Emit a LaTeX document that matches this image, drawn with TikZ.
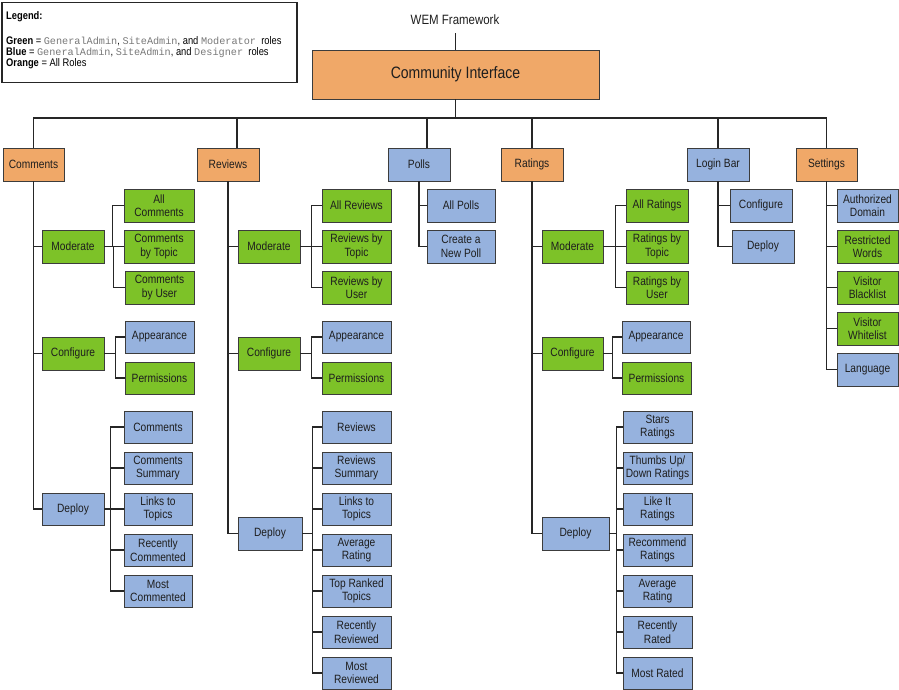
\documentclass[tikz,border=0pt]{standalone}
\usepackage{fontspec}
\setmainfont{Liberation Sans}[FakeStretch=0.85]
\newfontfamily\legmono{Liberation Mono}
\usetikzlibrary{shadows}
\definecolor{orgfill}{RGB}{240,168,104}
\definecolor{grnfill}{RGB}{125,194,40}
\definecolor{blufill}{RGB}{150,178,222}
\definecolor{boxline}{RGB}{60,60,60}
\definecolor{txtc}{RGB}{30,30,30}
\definecolor{monoc}{RGB}{120,120,120}
\newcommand\mono[1]{{\legmono\fontsize{10.2}{11}\selectfont\color{monoc}#1}}
\newcommand\bx[7]{\node[box,#6,minimum width={#4-#2},minimum height={#5-#3}] (#1) at ({(#2+#4)/2},{(#3+#5)/2}) {#7};}
\newcommand\mybrk[3]{\foreach \cc in {#3}{\draw[conn] (#1.east) -| ([xshift=-#2]\cc.west) -- (\cc.west);}}
\tikzset{
  box/.style={draw=boxline,line width=0.8pt,align=center,inner sep=1pt,text=txtc,
    font=\fontsize{12}{13.5}\selectfont,
    drop shadow={shadow xshift=1.2pt,shadow yshift=-1.2pt,opacity=0.25,fill=black}},
  O/.style={fill=orgfill},
  G/.style={fill=grnfill},
  B/.style={fill=blufill},
  conn/.style={line width=1.3pt,draw=black!85}
}
\begin{document}
\begin{tikzpicture}[x=1pt,y=-1pt]
\useasboundingbox (0,0) rectangle (899,690);
% legend
\node[draw=black!85,line width=1.5pt,minimum width=295,minimum height=80,inner sep=0pt] (legend) at (149.5,42.5) {};
\begin{scope}[every node/.style={anchor=base west,inner sep=0pt,font=\fontsize{11}{12}\selectfont,text=black}]
\node[font=\fontsize{11}{12}\selectfont\bfseries] (lg0) at (6,20) {Legend:};
\node (lg1) at (6,45) {\textbf{Green} = \mono{GeneralAdmin}, \mono{SiteAdmin}, and \mono{Moderator} \ roles};
\node (lg2) at (6,56) {\textbf{Blue} = \mono{GeneralAdmin}, \mono{SiteAdmin}, and \mono{Designer} \ roles};
\node (lg3) at (6,67) {\textbf{Orange} = All Roles};
\end{scope}
% title
\node[font=\fontsize{13.5}{15}\selectfont,text=txtc,inner sep=1pt] (wem) at (455,20) {WEM Framework};
\bx{ci}{312}{50}{599}{99}{O,font=\fontsize{16.5}{18}\selectfont}{Community Interface}
\draw[conn] (ci.north) -- ++(0,-17) coordinate (wemend);
% top level
\bx{comments}{3}{148}{64}{181}{O}{Comments}
\bx{reviews}{197}{148}{259}{181}{O}{Reviews}
\bx{polls}{388}{148}{450}{181}{B}{Polls}
\bx{ratings}{501}{148}{563}{181}{O}{Ratings}
\bx{login}{687}{148}{749}{181}{B}{Login Bar}
\bx{settings}{796}{148}{857}{181}{O}{Settings}
\coordinate (bus) at (455,118);
\draw[conn] (ci.south) -- (ci.south |- bus);
\draw[conn] (comments.north) -- (comments.north |- bus) -- (settings.north |- bus) -- (settings.north);
\path ([xshift=9]reviews.north) coordinate (rvtop) ([xshift=8]polls.north) coordinate (pltop);
\draw[conn] (rvtop) -- (rvtop |- bus);
\draw[conn] (pltop) -- (pltop |- bus);
\draw[conn] (ratings.north) -- (ratings.north |- bus);
\draw[conn] (login.north) -- (login.north |- bus);
% Comments column
\bx{cmod}{42}{230}{104}{263}{G}{Moderate}
\bx{cm1}{124}{189}{194}{222}{G}{All\\Comments}
\bx{cm2}{124}{230}{194}{263}{G}{Comments\\by Topic}
\bx{cm3}{125}{271}{194}{304}{G}{Comments\\by User}
\bx{ccfg}{42}{337}{104}{370}{G}{Configure}
\bx{cc1}{125}{321}{194}{353}{B}{Appearance}
\bx{cc2}{125}{362}{194}{394}{G}{Permissions}
\bx{cdep}{42}{493}{104}{525}{B}{Deploy}
\bx{cd1}{124}{411}{192}{443}{B}{Comments}
\bx{cd2}{124}{452}{192}{484}{B}{Comments\\Summary}
\bx{cd3}{124}{493}{192}{525}{B}{Links to\\Topics}
\bx{cd4}{124}{534}{192}{566}{B}{Recently\\Commented}
\bx{cd5}{124}{575}{192}{607}{B}{Most\\Commented}
\draw[conn] (comments.south) |- (cdep.west);
\draw[conn] (comments.south) |- (cmod.west);
\draw[conn] (comments.south) |- (ccfg.west);
\mybrk{cmod}{11}{cm1,cm2,cm3}
\mybrk{ccfg}{9}{cc1,cc2}
\mybrk{cdep}{13}{cd1,cd2,cd3,cd4,cd5}
% Reviews column
\bx{rmod}{238}{230}{300}{263}{G}{Moderate}
\bx{rm1}{322}{189}{391}{222}{G}{All Reviews}
\bx{rm2}{322}{230}{391}{263}{G}{Reviews by\\Topic}
\bx{rm3}{322}{271}{391}{304}{G}{Reviews by\\User}
\bx{rcfg}{238}{337}{300}{370}{G}{Configure}
\bx{rc1}{322}{321}{391}{353}{B}{Appearance}
\bx{rc2}{322}{362}{391}{394}{G}{Permissions}
\bx{rdep}{238}{517}{302}{550}{B}{Deploy}
\bx{rd1}{322}{411}{391}{443}{B}{Reviews}
\bx{rd2}{322}{452}{391}{484}{B}{Reviews\\Summary}
\bx{rd3}{322}{493}{391}{525}{B}{Links to\\Topics}
\bx{rd4}{322}{534}{391}{566}{B}{Average\\Rating}
\bx{rd5}{322}{575}{391}{607}{B}{Top Ranked\\Topics}
\bx{rd6}{322}{616}{391}{648}{B}{Recently\\Reviewed}
\bx{rd7}{322}{657}{391}{689}{B}{Most\\Reviewed}
\draw[conn] (reviews.south) |- (rdep.west);
\draw[conn] (reviews.south) |- (rmod.west);
\draw[conn] (reviews.south) |- (rcfg.west);
\mybrk{rmod}{10}{rm1,rm2,rm3}
\mybrk{rcfg}{10}{rc1,rc2}
\mybrk{rdep}{9}{rd1,rd2,rd3,rd4,rd5,rd6,rd7}
% Polls
\bx{pl1}{427}{189}{495}{222}{B}{All Polls}
\bx{pl2}{427}{230}{495}{263}{B}{Create a\\New Poll}
\draw[conn] (polls.south) |- (pl2.west);
\draw[conn] (polls.south) |- (pl1.west);
% Ratings column
\bx{tmod}{542}{230}{603}{263}{G}{Moderate}
\bx{tm1}{626}{189}{688}{222}{G}{All Ratings}
\bx{tm2}{626}{230}{688}{263}{G}{Ratings by\\Topic}
\bx{tm3}{626}{271}{688}{304}{G}{Ratings by\\User}
\bx{tcfg}{542}{337}{603}{370}{G}{Configure}
\bx{tc1}{622}{321}{690}{353}{B}{Appearance}
\bx{tc2}{622}{362}{691}{394}{G}{Permissions}
\bx{tdep}{542}{517}{609}{550}{B}{Deploy}
\bx{td1}{623}{411}{692}{443}{B}{Stars\\Ratings}
\bx{td2}{623}{452}{692}{484}{B}{Thumbs Up/\\Down Ratings}
\bx{td3}{623}{493}{692}{525}{B}{Like It\\Ratings}
\bx{td4}{623}{534}{692}{566}{B}{Recommend\\Ratings}
\bx{td5}{623}{575}{692}{607}{B}{Average\\Rating}
\bx{td6}{623}{616}{692}{648}{B}{Recently\\Rated}
\bx{td7}{623}{657}{692}{689}{B}{Most Rated}
\draw[conn] (ratings.south) |- (tdep.west);
\draw[conn] (ratings.south) |- (tmod.west);
\draw[conn] (ratings.south) |- (tcfg.west);
\mybrk{tmod}{10}{tm1,tm2,tm3}
\mybrk{tcfg}{9}{tc1,tc2}
\mybrk{tdep}{6}{td1,td2,td3,td4,td5,td6,td7}
% Login Bar
\bx{lg1b}{730}{189}{792}{222}{B}{Configure}
\bx{lg2b}{732}{230}{794}{263}{B}{Deploy}
\draw[conn] (login.south) |- (lg2b.west);
\draw[conn] (login.south) |- (lg1b.west);
% Settings
\bx{st1}{837}{189}{898}{222}{B}{Authorized\\Domain}
\bx{st2}{837}{230}{898}{263}{G}{Restricted\\Words}
\bx{st3}{837}{271}{898}{304}{G}{Visitor\\Blacklist}
\bx{st4}{837}{312}{898}{345}{G}{Visitor\\Whitelist}
\bx{st5}{837}{353}{898}{386}{B}{Language}
\foreach \s in {st1,st2,st3,st4,st5}{\draw[conn] (settings.south) |- (\s.west);}
\end{tikzpicture}
\end{document}
